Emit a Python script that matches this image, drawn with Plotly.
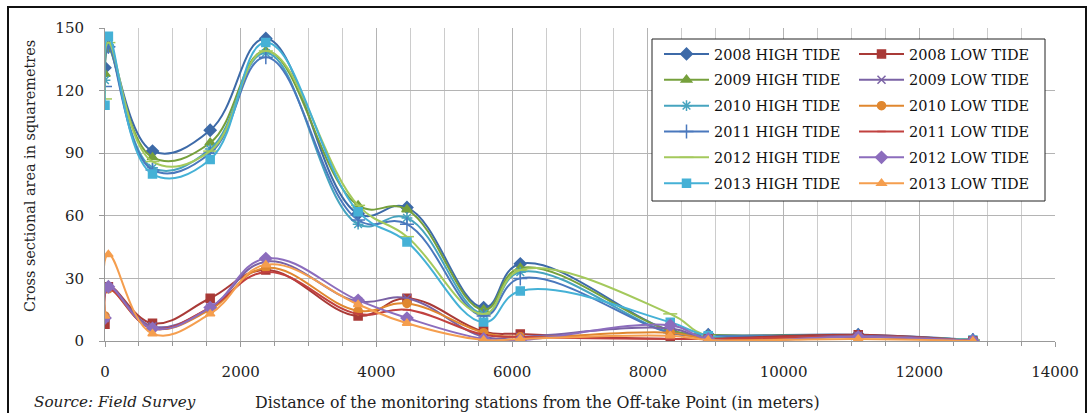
import plotly.graph_objects as go

# Monitoring stations: distance from the off-take point (m)
stations = [0, 50, 700, 1550, 2370, 3730, 4450, 5580, 6120, 8330, 8890, 11100, 12790]

# Cross sectional area (sq. m) at high tide
ht_2008 = [131, 141, 91, 101, 145, 61, 64, 16, 37, 5, 3, 3, 0.5]
ht_2009 = [128, 140, 88, 95, 139, 65, 63, 15, 35, 5, 3, 2.5, 0.5]
ht_2010 = [125, 142, 83, 92, 138, 56, 59, 13, 33, 4, 2.5, 2.5, 0.5]
ht_2011 = [122, 141, 82, 90, 136, 58, 56, 12, 30, 4, 2.5, 2.5, 0.5]
ht_2012 = [116, 143, 86, 91, 139, 65, 50, 13, 34, 13, 2.5, 2, 0.5]
ht_2013 = [113, 146, 80, 87, 143, 62, 47.5, 9, 24, 9, 2.5, 2, 0.5]

# Cross sectional area (sq. m) at low tide
lt_2008 = [8, 26, 8.5, 20.5, 34, 12, 20.5, 4.5, 3.4, 1, 1, 3, 0]
lt_2009 = [11, 26, 7, 16, 38, 19, 20.5, 2, 2, 6, 1, 2.5, 0]
lt_2010 = [12, 25, 6, 15, 35, 14.5, 18, 4, 2, 4, 1, 2, 0]
lt_2011 = [10, 25, 6, 16, 33, 13, 15, 3, 2, 1, 1, 2, 0]
lt_2012 = [11, 26, 6, 16, 39.5, 19.5, 11, 1, 0.5, 7.5, 1, 2, 0]
lt_2013 = [12, 41.5, 3.5, 13, 36.5, 17.5, 8.5, 0.5, 1, 2.5, 0.5, 1, 0]

high_tide = [
    ("2008 HIGH TIDE", ht_2008, "#3d6aa8", "diamond", 9),
    ("2009 HIGH TIDE", ht_2009, "#76a03c", "triangle-up", 9),
    ("2010 HIGH TIDE", ht_2010, "#46a4bf", "asterisk-open", 9),
    ("2011 HIGH TIDE", ht_2011, "#4a78bd", "cross-thin-open", 10),
    ("2012 HIGH TIDE", ht_2012, "#a4c95c", "line-ew-open", 10),
    ("2013 HIGH TIDE", ht_2013, "#45b1d6", "square", 8),
]
low_tide = [
    ("2008 LOW TIDE", lt_2008, "#a93a37", "square", 8),
    ("2009 LOW TIDE", lt_2009, "#7a62a5", "x-thin-open", 8),
    ("2010 LOW TIDE", lt_2010, "#e0872f", "circle", 8),
    ("2011 LOW TIDE", lt_2011, "#c1413f", "line-ew-open", 6),
    ("2012 LOW TIDE", lt_2012, "#8c6dbd", "diamond", 9),
    ("2013 LOW TIDE", lt_2013, "#f59e4e", "triangle-up", 8),
]

SERIF = "DejaVu Serif"

fig = go.Figure()
for legend_id, group in (("legend", high_tide), ("legend2", low_tide)):
    for name, values, color, symbol, size in group:
        fig.add_trace(go.Scatter(
            x=stations, y=values, name=name, mode="lines+markers",
            line=dict(color=color, width=2, shape="spline", smoothing=1.2),
            marker=dict(symbol=symbol, size=size, color=color,
                        line=dict(color=color, width=1.5)),
            legend=legend_id, legendgroup=name,
        ))

# plot area spans 105..1055 px horizontally and 28..341 px vertically
L, R, T, B = 105, 1055, 28, 341
W, H = R - L, B - T
px = lambda p: (p - L) / W
py = lambda p: (B - p) / H

legend_common = dict(
    font=dict(family=SERIF, size=14.5, color="#111111"),
    bgcolor="rgba(0,0,0,0)", borderwidth=0, itemwidth=45,
    tracegroupgap=4, yanchor="top", xanchor="left", itemclick=False,
)

fig.update_layout(
    width=1090, height=413,
    margin=dict(l=L, r=1090 - R, t=T, b=413 - B),
    paper_bgcolor="white", plot_bgcolor="white",
    showlegend=True,
    legend=dict(x=px(659), y=py(38), **legend_common),
    legend2=dict(x=px(854), y=py(38), **legend_common),
    xaxis=dict(
        range=[0, 14000], dtick=2000, tick0=0, tickformat="d", showgrid=True,
        gridcolor="#b4b4b4", gridwidth=1,
        minor=dict(dtick=500, showgrid=True, gridcolor="#cccccc", gridwidth=1,
                   ticks="outside", ticklen=4, tickcolor="#999999"),
        ticks="outside", ticklen=5, tickcolor="#999999",
        showline=True, linecolor="#999999", linewidth=1,
        zeroline=False, ticklabelstandoff=12,
        tickfont=dict(family=SERIF, size=15, color="#222222"),
    ),
    yaxis=dict(
        range=[0, 150], dtick=30, tick0=0, showgrid=True,
        gridcolor="#b4b4b4", gridwidth=1,
        ticks="outside", ticklen=5, tickcolor="#999999",
        showline=True, linecolor="#999999", linewidth=1,
        zeroline=False, ticklabelstandoff=12,
        tickfont=dict(family=SERIF, size=15, color="#222222"),
    ),
    shapes=[
        # legend box
        dict(type="rect", xref="paper", yref="paper",
             x0=px(652), x1=px(1045), y0=py(201), y1=py(39),
             line=dict(color="#222222", width=1), fillcolor="white",
             layer="above"),
        # outer frame
        dict(type="rect", xref="paper", yref="paper",
             x0=px(8), x1=px(1086), y0=py(425), y1=py(7),
             line=dict(color="#111111", width=2), fillcolor="rgba(0,0,0,0)",
             layer="above"),
    ],
    annotations=[
        dict(text="Cross sectional area in squaremetres", textangle=-90,
             xref="paper", yref="paper", x=px(30), y=py(176),
             xanchor="center", yanchor="middle", showarrow=False,
             font=dict(family=SERIF, size=14.4, color="#222222")),
        dict(text="Distance of the monitoring stations from the Off-take Point (in meters)",
             xref="paper", yref="paper", x=px(253), y=py(402),
             xanchor="left", yanchor="middle", showarrow=False,
             font=dict(family=SERIF, size=15.8, color="#222222")),
        dict(text="<i>Source: Field Survey</i>",
             xref="paper", yref="paper", x=px(32), y=py(402),
             xanchor="left", yanchor="middle", showarrow=False,
             font=dict(family=SERIF, size=15.2, color="#222222")),
    ],
)

fig.write_html("out.html")
